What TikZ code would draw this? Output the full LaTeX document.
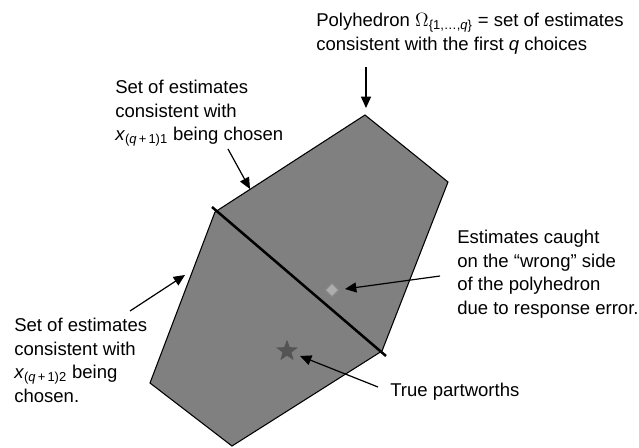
\documentclass[tikz,border=0pt]{standalone}
\usepackage{fontspec}
\setmainfont{Liberation Sans}
\usetikzlibrary{shapes.geometric,arrows.meta}
\definecolor{polyfill}{gray}{0.5}
\definecolor{starfill}{gray}{0.33}
\definecolor{estfill}{gray}{0.68}
\definecolor{estline}{gray}{0.55}
\tikzset{lbl/.style={anchor=north west,inner sep=0pt,align=left,font=\fontsize{13.9}{17.6}\selectfont},
 ptr/.style={-{Triangle[length=8.5pt,width=7.5pt]},line width=0.9pt},
 cut/.style={line width=1.9pt},
 est/.style={diamond,draw=estline,fill=estfill,line width=0.6pt,minimum size=10pt,inner sep=0pt},
 tru/.style={star,star points=5,star point ratio=2.4,fill=starfill,minimum size=17pt,inner sep=0pt}}
\newcommand{\xsub}[1]{\textit{x}\textsubscript{(\textit{q}\,+\,1)#1}}

\begin{document}
\begin{tikzpicture}[x=0.75pt,y=-0.75pt]
\useasboundingbox (0,0) rectangle (639,447);
\coordinate(vt) at(365,115);\coordinate(vr) at(448,182);
\coordinate(vrl) at(382,351);\coordinate(vb) at(232,446);
\coordinate(vl) at(150,383);\coordinate(vlu) at(215,212);
\filldraw[fill=polyfill,line width=0.8pt](vt)--(vr)--(vrl)--(vb)--(vl)--(vlu)--cycle;
\coordinate(c1) at(212,207);\coordinate(c2) at(386,356);
\draw[cut](c1)--(c2);
\node[est](wr) at(332,290){};
\node[tru](tp) at(287,351){};
\node[lbl](poly) at(316,13){Polyhedron $\Omega$\textsubscript{\{1,\ldots,\textit{q}\}} = set of estimates\\consistent with the first \textit{q} choices};
\node[lbl](one) at(115,80){Set of estimates\\consistent with\\\xsub{1} being chosen};
\node[lbl](two) at(14,318){Set of estimates\\consistent with\\\xsub{2} being\\chosen.};
\node[lbl](err) at(457,230){Estimates caught\\on the “wrong” side\\of the polyhedron\\due to response error.};
\node[lbl](tpl) at(390,383){True partworths};
\coordinate(a0) at(366,67);\coordinate(b0) at(366,108);
\coordinate(a1) at(228,149);\coordinate(b1) at(250,189);
\coordinate(a2) at(130,311);\coordinate(b2) at(185,275);
\coordinate(a3) at(440,276);\coordinate(b3) at(345,289);
\coordinate(a4) at(378,387);\coordinate(b4) at(300,356);
\draw[ptr](a0)--(b0);
\draw[ptr](a1)--(b1);
\draw[ptr](a2)--(b2);
\draw[ptr](a3)--(b3);
\draw[ptr](a4)--(b4);
\end{tikzpicture}
\end{document}
